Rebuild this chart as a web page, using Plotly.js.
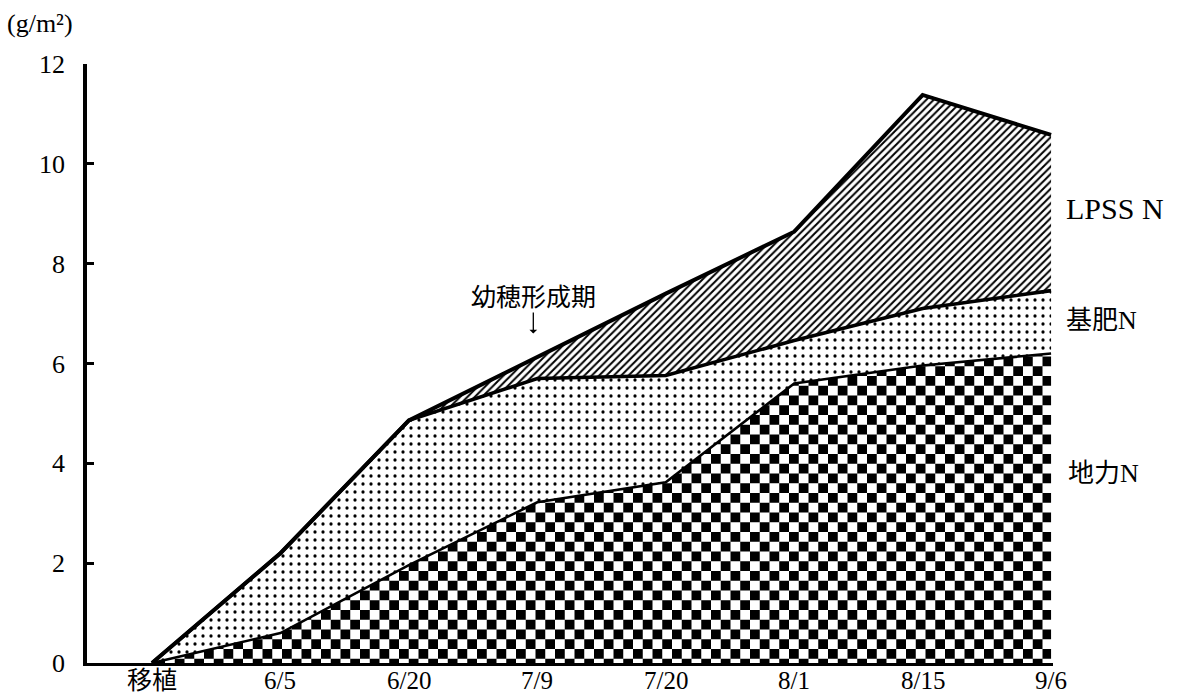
<!DOCTYPE html>
<html>
<head>
<meta charset="utf-8">
<script src="https://cdn.plot.ly/plotly-3.0.1.min.js"></script>
<style>
  html, body { margin: 0; padding: 0; background: #fff; }
  #chart { width: 1181px; height: 698px; }
</style>
</head>
<body>
<div id="chart"></div>
<script>
// Categories (sampling dates)
const categories = ['移植', '6/5', '6/20', '7/9', '7/20', '8/1', '8/15', '9/6'];
// Component values (g/m²), stacked bottom to top
const soilN  = [0, 0.60, 1.96, 3.22, 3.62, 5.60, 5.96, 6.20];   // 地力N
const basalN = [0, 1.60, 2.90, 2.48, 2.14, 0.86, 1.14, 1.26];   // 基肥N
const lpssN  = [0, 0.00, 0.00, 0.44, 1.64, 2.18, 4.28, 3.12];   // LPSS N
const yTicks = [0, 2, 4, 6, 8, 10, 12];
const seriesLabels = ['地力N', '基肥N', 'LPSS N'];

const serif = '"Liberation Serif", "Noto Sans CJK JP", serif';

const checkerPath = 'M0,0H9.75V9.75H0Z M9.75,9.75H19.5V19.5H9.75Z';

const traces = [
  {
    x: categories, y: soilN, name: seriesLabels[0], uid: 'dili',
    type: 'scatter', mode: 'lines', stackgroup: 'n',
    line: { color: '#000', width: 2.6 },
    fillcolor: '#000',
    fillpattern: { path: checkerPath, size: 19.5, bgcolor: '#fff', fgcolor: '#000', solidity: 1 },
    hoverinfo: 'skip'
  },
  {
    x: categories, y: basalN, name: seriesLabels[1], uid: 'kihi',
    type: 'scatter', mode: 'lines', stackgroup: 'n',
    line: { color: '#000', width: 3.6 },
    fillcolor: '#fff',
    fillpattern: { shape: '.', size: 8, solidity: 0.13, bgcolor: '#fff', fgcolor: '#000' },
    hoverinfo: 'skip'
  },
  {
    x: categories, y: lpssN, name: seriesLabels[2], uid: 'lpss',
    type: 'scatter', mode: 'lines', stackgroup: 'n',
    line: { color: '#000', width: 4 },
    fillcolor: '#fff',
    fillpattern: { shape: '/', size: 5.2, solidity: 0.38, bgcolor: '#fff', fgcolor: '#000' },
    hoverinfo: 'skip'
  }
];

// x-axis category labels placed as annotations so they sit right under the axis line
const xLabelAnnotations = categories.map(function (c) {
  return {
    xref: 'x', yref: 'paper', x: c, y: -0.004, xanchor: 'center', yanchor: 'top',
    text: c, showarrow: false, font: { family: serif, size: 25, color: '#000' }
  };
});

const layout = {
  width: 1181, height: 698,
  margin: { l: 87, r: 128, t: 64, b: 35 },
  paper_bgcolor: '#fff', plot_bgcolor: '#fff',
  showlegend: false,
  xaxis: {
    type: 'category',
    categoryorder: 'array', categoryarray: categories,
    range: [-0.506, 7.015],
    showline: true, linecolor: '#000', linewidth: 2.8,
    ticks: '', showgrid: false, zeroline: false,
    showticklabels: false
  },
  yaxis: {
    range: [0, 12],
    tickvals: yTicks,
    showline: true, linecolor: '#000', linewidth: 3.8,
    ticks: 'inside', ticklen: 7, tickwidth: 2.8, tickcolor: '#000',
    showgrid: false, zeroline: false,
    ticklabelstandoff: 13,
    tickfont: { family: serif, size: 26, color: '#000' }
  },
  annotations: [
    { xref: 'paper', yref: 'paper', x: -0.085, y: 1.068, xanchor: 'left', yanchor: 'middle',
      text: '(g/m²)', showarrow: false, font: { family: serif, size: 26, color: '#000' } },
    { xref: 'paper', yref: 'paper', x: 1.011, y: 0.758, xanchor: 'left', yanchor: 'middle',
      text: seriesLabels[2], showarrow: false, font: { family: serif, size: 30, color: '#000' } },
    { xref: 'paper', yref: 'paper', x: 1.011, y: 0.572, xanchor: 'left', yanchor: 'middle',
      text: seriesLabels[1], showarrow: false, font: { family: serif, size: 26, color: '#000' } },
    { xref: 'paper', yref: 'paper', x: 1.013, y: 0.317, xanchor: 'left', yanchor: 'middle',
      text: seriesLabels[0], showarrow: false, font: { family: serif, size: 26, color: '#000' } },
    { xref: 'x', yref: 'y', x: '7/9', y: 6.6, xshift: -4,
      text: '幼穂形成期', showarrow: true, ax: 0, ay: -36,
      arrowhead: 1, arrowsize: 1, arrowwidth: 1.3, arrowcolor: '#000',
      font: { family: serif, size: 25, color: '#000' } }
  ].concat(xLabelAnnotations)
};

Plotly.newPlot('chart', traces, layout, { staticPlot: true, displayModeBar: false });
</script>
</body>
</html>
